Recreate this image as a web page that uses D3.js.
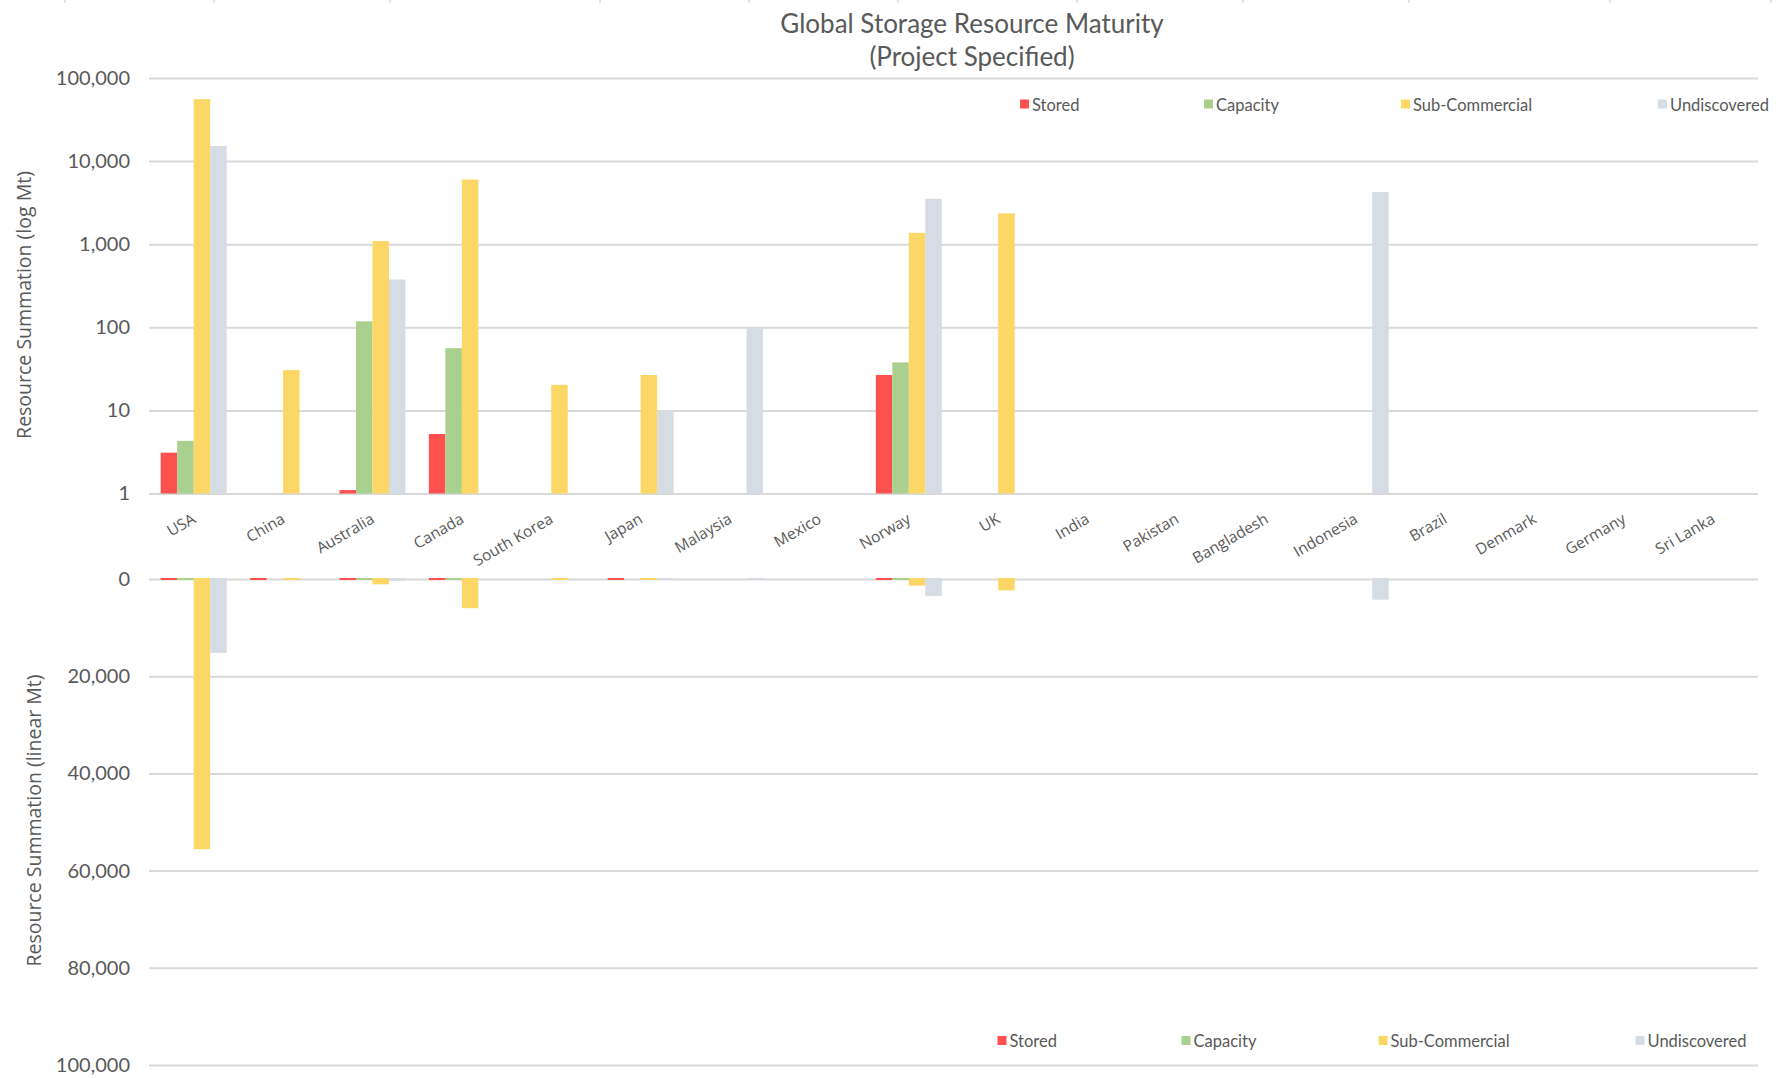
<!DOCTYPE html>
<html>
<head>
<meta charset="utf-8">
<script src="https://cdn.jsdelivr.net/npm/d3@7"></script>
<style>
  html, body { margin: 0; padding: 0; background: #ffffff; }
  svg { display: block; }
</style>
</head>
<body>
<svg id="chart" width="1778" height="1078"></svg>
<script>
// ---------- DATA ----------
const categories = ["USA","China","Australia","Canada","South Korea","Japan","Malaysia","Mexico","Norway","UK","India","Pakistan","Bangladesh","Indonesia","Brazil","Denmark","Germany","Sri Lanka"];
const seriesNames = ["Stored","Capacity","Sub-Commercial","Undiscovered"];
const stored        = [3.1, 0.5, 1.1, 5.2, 0, 0.5, 0, 0, 26.7, 0, 0, 0, 0, 0, 0, 0, 0, 0];
const capacity      = [4.3, 0, 118, 56, 0, 0, 0, 0, 37.8, 0, 0, 0, 0, 0, 0, 0, 0, 0];
const subCommercial = [55600, 30.5, 1090, 6000, 20.3, 26.7, 0, 0, 1370, 2350, 0, 0, 0, 0, 0, 0, 0, 0];
const undiscovered  = [15200, 0, 376, 0, 0, 10, 101, 0, 3520, 0, 0, 0, 0, 4250, 0, 0, 0, 0];
const logTicks = [1, 10, 100, 1000, 10000, 100000];
const linTicks = [0, 20000, 40000, 60000, 80000, 100000];
const titleLines = ["Global Storage Resource Maturity", "(Project Specified)"];
const logAxisTitle = "Resource Summation (log Mt)";
const linAxisTitle = "Resource Summation (linear Mt)";

// ---------- STYLE / LAYOUT ----------
const colors = ["#FF5050", "#A9D08E", "#FCD766", "#D6DCE4"];
const textColor = "#595959";
const gridColor = "#d9d9d9";
const condFont = "Lato, 'Liberation Sans', sans-serif";
const wideFont = "'Open Sans', 'DejaVu Sans', sans-serif";
const plotLeft = 149, plotRight = 1758;
const logTop = 78, logBottom = 493.5;
const linTop = 579, linBottom = 1065;

const seriesValues = [stored, capacity, subCommercial, undiscovered];
const rows = categories.map((c, i) => ({cat: c, vals: seriesValues.map(s => s[i])}));

const svg = d3.select("#chart");

const x0 = d3.scaleBand().domain(categories).range([plotLeft, plotRight]).paddingInner(0.262).paddingOuter(0.131);
const x1 = d3.scaleBand().domain(d3.range(seriesNames.length)).range([0, x0.bandwidth()]);
const yLog = d3.scaleLog().domain([1, 100000]).range([logBottom, logTop]);
const yLin = d3.scaleLinear().domain([0, 100000]).range([linTop, linBottom]);

// tiny marks at very top edge
const topMarks = [65, 214, 390, 600, 749, 898, 1077, 1243, 1409, 1610, 1771];
svg.append("g").selectAll("line").data(topMarks).join("line")
  .attr("x1", d => d).attr("x2", d => d).attr("y1", 0).attr("y2", 3)
  .attr("stroke", "#c8c8c8").attr("stroke-width", 1);

// ---------- AXES / GRID ----------
function styleAxis(g) {
  g.select(".domain").remove();
  g.selectAll(".tick line").attr("stroke", gridColor).attr("stroke-width", 2);
  g.selectAll(".tick text").attr("fill", textColor).attr("font-family", condFont).attr("font-size", 20);
}
svg.append("g").attr("transform", `translate(${plotLeft},0)`)
  .call(d3.axisLeft(yLog).tickValues(logTicks).tickFormat(d3.format(",")).tickSize(-(plotRight - plotLeft)).tickPadding(19))
  .call(styleAxis);
svg.append("g").attr("transform", `translate(${plotLeft},0)`)
  .call(d3.axisLeft(yLin).tickValues(linTicks).tickFormat(d3.format(",")).tickSize(-(plotRight - plotLeft)).tickPadding(19))
  .call(styleAxis);

// ---------- BARS: log panel ----------
const gLog = svg.append("g");
gLog.selectAll("g").data(rows).join("g")
  .attr("transform", d => `translate(${x0(d.cat)},0)`)
  .selectAll("rect").data(d => d.vals.map((v, k) => ({v, k})).filter(o => o.v >= 1)).join("rect")
  .attr("x", o => x1(o.k)).attr("width", x1.bandwidth())
  .attr("y", o => yLog(o.v)).attr("height", o => yLog(1) - yLog(o.v))
  .attr("fill", o => colors[o.k]);

// ---------- BARS: linear panel (downward) ----------
const gLin = svg.append("g");
gLin.selectAll("g").data(rows).join("g")
  .attr("transform", d => `translate(${x0(d.cat)},0)`)
  .selectAll("rect").data(d => d.vals.map((v, k) => ({v, k})).filter(o => o.v > 0)).join("rect")
  .attr("x", o => x1(o.k)).attr("width", x1.bandwidth())
  .attr("y", o => yLin(0) - 1)
  .attr("height", o => Math.max(yLin(o.v) - yLin(0) + 1, 2))
  .attr("fill", o => colors[o.k]);

// ---------- CATEGORY LABELS ----------
svg.append("g").selectAll("text").data(categories).join("text")
  .attr("transform", d => `translate(${x0(d) + x0.bandwidth() / 2 + 3},522) rotate(-30)`)
  .attr("text-anchor", "end")
  .attr("fill", textColor).attr("font-family", wideFont).attr("font-size", 15.5)
  .text(d => d);

// ---------- TITLES ----------
svg.append("g").selectAll("text").data(titleLines).join("text")
  .attr("x", 972).attr("y", (d, i) => 33 + i * 33)
  .attr("text-anchor", "middle").attr("fill", textColor)
  .attr("font-family", condFont).attr("font-size", 26)
  .text(d => d);

svg.append("text")
  .attr("transform", `translate(31,${(171 + 439) / 2}) rotate(-90)`)
  .attr("text-anchor", "middle").attr("fill", textColor)
  .attr("font-family", wideFont).attr("font-size", 19.5)
  .text(logAxisTitle);
svg.append("text")
  .attr("transform", `translate(41,${(674 + 967) / 2}) rotate(-90)`)
  .attr("text-anchor", "middle").attr("fill", textColor)
  .attr("font-family", wideFont).attr("font-size", 19.5)
  .text(linAxisTitle);

// ---------- LEGENDS ----------
const legendOffsets = [0, 184, 381, 638];
function legend(x, ySquare) {
  const g = svg.append("g");
  const items = g.selectAll("g").data(seriesNames).join("g")
    .attr("transform", (d, i) => `translate(${x + legendOffsets[i]},${ySquare})`);
  items.append("rect").attr("width", 9).attr("height", 9).attr("fill", (d, i) => colors[i]);
  items.append("text").attr("x", 12).attr("y", 11)
    .attr("fill", textColor).attr("font-family", condFont).attr("font-size", 16.5)
    .text(d => d);
}
legend(1020, 99.5);
legend(997.5, 1036);
</script>
</body>
</html>
